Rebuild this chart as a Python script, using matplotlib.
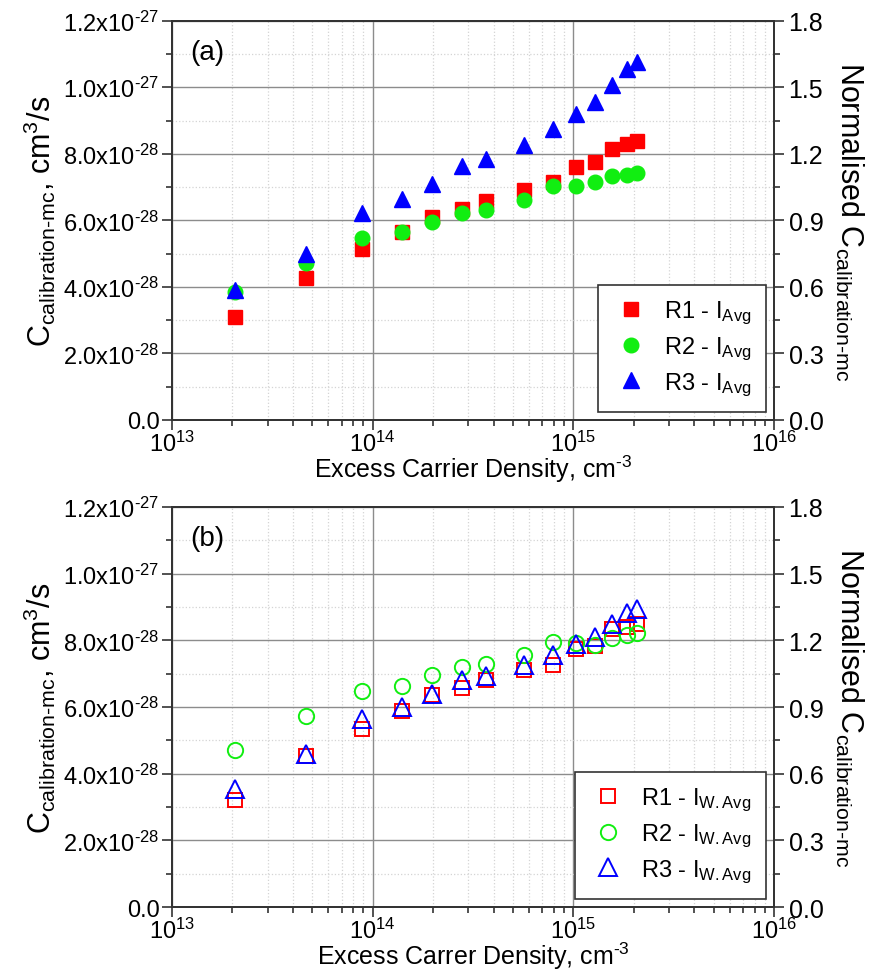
import matplotlib
matplotlib.use('Agg')
import matplotlib.pyplot as plt
import numpy as np
from matplotlib.ticker import MultipleLocator, FuncFormatter, LogLocator, LogFormatterMathtext, NullFormatter

plt.rcParams['font.family'] = ['Liberation Sans', 'DejaVu Sans']
plt.rcParams['mathtext.fontset'] = 'custom'
plt.rcParams['mathtext.rm'] = 'Liberation Sans'
plt.rcParams['mathtext.it'] = 'Liberation Sans:italic'
plt.rcParams['mathtext.bf'] = 'Liberation Sans:bold'

# excess carrier density, cm^-3
density = [2.06e13, 4.64e13, 8.87e13, 1.40e14, 1.98e14, 2.79e14, 3.67e14,
           5.68e14, 7.94e14, 1.03e15, 1.28e15, 1.55e15, 1.85e15, 2.07e15]

# (a) C calibration-mc, units of 1e-28 cm^3/s
r1_avg = [3.09, 4.26, 5.14, 5.64, 6.10, 6.34, 6.59, 6.92, 7.14, 7.59, 7.76, 8.14, 8.29, 8.40]
r2_avg = [3.85, 4.71, 5.46, 5.64, 5.94, 6.21, 6.32, 6.61, 7.02, 7.04, 7.16, 7.32, 7.37, 7.42]
r3_avg = [3.90, 4.98, 6.21, 6.64, 7.09, 7.62, 7.84, 8.27, 8.74, 9.21, 9.56, 10.06, 10.56, 10.76]

# (b) same, weighted average
r1_wavg = [3.20, 4.52, 5.35, 5.89, 6.37, 6.57, 6.80, 7.12, 7.27, 7.73, 7.82, 8.33, 8.40, 8.48]
r2_wavg = [4.71, 5.73, 6.48, 6.63, 6.96, 7.20, 7.30, 7.55, 7.95, 7.93, 7.87, 8.08, 8.15, 8.23]
r3_wavg = [3.55, 4.58, 5.65, 6.00, 6.38, 6.81, 6.93, 7.27, 7.57, 7.90, 8.11, 8.50, 8.82, 8.93]

x = np.array(density)
unit = 1e-28


def sci_fmt(v, pos):
    if v <= 1e-40:
        return '0.0'
    e = int(np.floor(np.log10(v) + 1e-9))
    m = v / 10**e
    return r'%.1fx10$^{\text{-}%d}$' % (m, -e)


def setup(ax, xlabel, tag):
    ax.set_xscale('log')
    ax.set_xlim(1e13, 1e16)
    ax.set_ylim(0, 1.2e-27)
    ax.xaxis.set_major_locator(LogLocator(base=10, numticks=10))
    ax.xaxis.set_minor_locator(LogLocator(base=10, subs=np.arange(2, 10), numticks=20))
    ax.xaxis.set_major_formatter(LogFormatterMathtext())
    ax.xaxis.set_minor_formatter(NullFormatter())
    ax.yaxis.set_major_locator(MultipleLocator(0.2e-27))
    ax.yaxis.set_minor_locator(MultipleLocator(0.1e-27))
    ax.yaxis.set_major_formatter(FuncFormatter(sci_fmt))
    ax.grid(which='major', color='#8c8c8c', lw=1.0)
    ax.grid(which='minor', color='#d4d4d4', ls=':', lw=0.9)
    ax.set_axisbelow(True)
    ax.tick_params(which='both', direction='out', labelsize=17, width=1.2, color='#333333')
    ax.tick_params(which='major', length=7)
    ax.tick_params(which='minor', length=4)
    ax.tick_params(axis='x', which='both', top=False, pad=1)
    ax.tick_params(axis='y', pad=2)
    for s in ax.spines.values():
        s.set_linewidth(1.3)
        s.set_color('#333333')
    ax.set_xlabel(xlabel, fontsize=18, labelpad=-3)
    ax.set_ylabel(r'C$_{\mathregular{calibration}\text{-}\mathregular{mc}}$, cm$^{3}$/s', fontsize=22, labelpad=4)
    ax.text(0.03, 0.955, tag, transform=ax.transAxes, fontsize=20, va='top', ha='left')

    ax2 = ax.twinx()
    ax2.set_ylim(0, 1.8)
    ax2.yaxis.set_major_locator(MultipleLocator(0.3))
    ax2.yaxis.set_minor_locator(MultipleLocator(0.15))
    ax2.yaxis.set_major_formatter(FuncFormatter(lambda v, p: '%.1f' % abs(v)))
    ax2.tick_params(which='both', direction='out', labelsize=18, width=1.2, color='#333333')
    ax2.tick_params(which='major', length=7)
    ax2.tick_params(which='minor', length=4)
    for s in ax2.spines.values():
        s.set_linewidth(1.3)
        s.set_color('#333333')
    ax2.set_ylabel(r'Normalised C$_{\mathregular{calibration}\text{-}\mathregular{mc}}$',
                   fontsize=22, rotation=270, labelpad=30)
    return ax2


fig = plt.figure(figsize=(8.7, 9.7), dpi=100)

# panel (a)
axa = fig.add_axes([0.1977, 0.566, 0.692, 0.4116])
axa.plot(x, np.array(r1_avg) * unit, 's', color='#ff0000', ms=10, ls='none',
         label=r'R1 - I$_{\mathregular{Avg}}$')
axa.plot(x, np.array(r2_avg) * unit, 'o', color='#11ee11', ms=10.5, ls='none',
         label=r'R2 - I$_{\mathregular{Avg}}$')
axa.plot(x, np.array(r3_avg) * unit, '^', color='#0000ff', ms=12, ls='none',
         label=r'R3 - I$_{\mathregular{Avg}}$')
setup(axa, r'Excess Carrier Density, cm$^{\text{-}3}$', '(a)')
leg = axa.legend(loc='lower right', fontsize=17, frameon=True, fancybox=False,
                 edgecolor='#333333', framealpha=1, borderaxespad=0.35,
                 handletextpad=0.6, labelspacing=0.35, borderpad=0.6, handlelength=1.6)
leg.get_frame().set_linewidth(1.2)

# panel (b)
axb = fig.add_axes([0.1977, 0.0639, 0.692, 0.4124])
axb.plot(x, np.array(r1_wavg) * unit, 's', mfc='none', mec='#ff0000', mew=1.4, ms=9.5, ls='none',
         label=r'R1 - I$_{\mathregular{W.Avg}}$')
axb.plot(x, np.array(r2_wavg) * unit, 'o', mfc='none', mec='#11ee11', mew=1.4, ms=11, ls='none',
         label=r'R2 - I$_{\mathregular{W.Avg}}$')
axb.plot(x, np.array(r3_wavg) * unit, '^', mfc='none', mec='#0000ff', mew=1.4, ms=13, ls='none',
         label=r'R3 - I$_{\mathregular{W.Avg}}$')
setup(axb, r'Excess Carrer Density, cm$^{\text{-}3}$', '(b)')
leg = axb.legend(loc='lower right', fontsize=17, frameon=True, fancybox=False,
                 edgecolor='#333333', framealpha=1, borderaxespad=0.35,
                 handletextpad=0.6, labelspacing=0.35, borderpad=0.6, handlelength=1.6)
leg.get_frame().set_linewidth(1.2)

fig.savefig('out.png', dpi=100)
